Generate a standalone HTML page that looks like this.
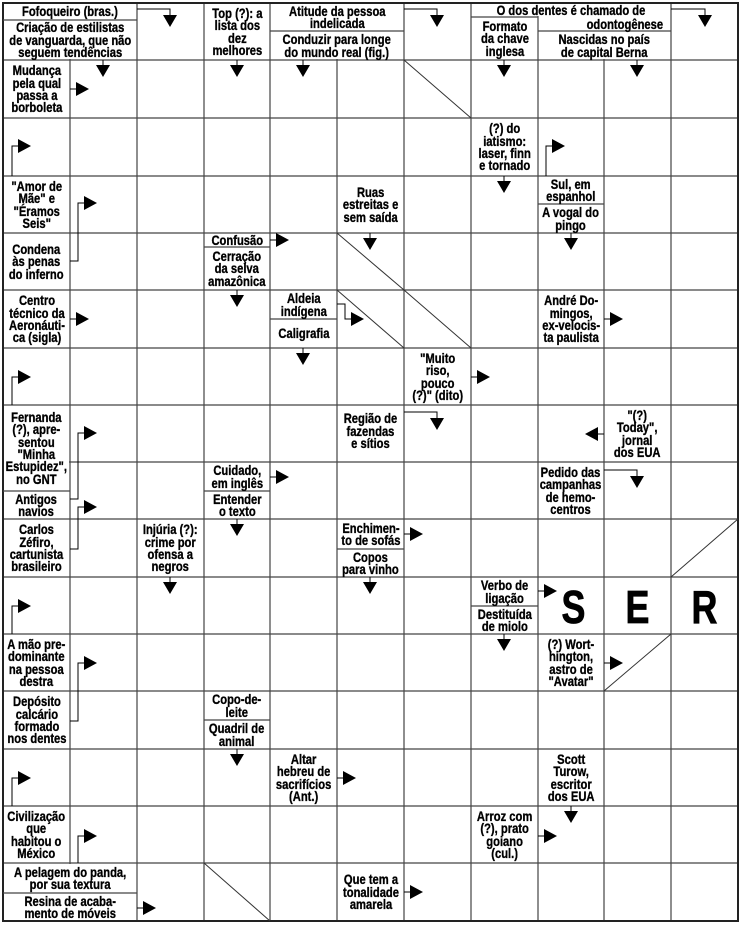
<!DOCTYPE html>
<html><head><meta charset="utf-8">
<style>
html,body{margin:0;padding:0;background:#fff;}
#w{position:relative;width:740px;height:926px;overflow:hidden;background:#fff;}
svg{position:absolute;left:0;top:0;}
.c{position:absolute;display:flex;align-items:center;justify-content:center;}
.c span{display:block;font:bold 14px/12.4px "Liberation Sans",Arial,sans-serif;text-align:center;white-space:nowrap;transform:scaleX(.8);color:#000;-webkit-text-stroke:0.35px #000;}
.L{position:absolute;font:bold 46px/44px "Liberation Sans",Arial,sans-serif;transform:scaleX(.78);width:67px;text-align:center;color:#000;-webkit-text-stroke:0.8px #000;}
</style></head><body>
<div id="w">
<svg width="740" height="926" viewBox="0 0 740 926">
<g stroke="#444" stroke-width="1.2" fill="none">
<line x1="70" y1="3" x2="70" y2="921"/><line x1="137" y1="3" x2="137" y2="921"/><line x1="204" y1="3" x2="204" y2="921"/><line x1="270" y1="3" x2="270" y2="921"/><line x1="337" y1="3" x2="337" y2="921"/><line x1="404" y1="3" x2="404" y2="921"/><line x1="471" y1="3" x2="471" y2="921"/><line x1="538" y1="3" x2="538" y2="921"/><line x1="604" y1="3" x2="604" y2="921"/><line x1="671" y1="3" x2="671" y2="921"/>
<line x1="3" y1="60" x2="738" y2="60"/><line x1="3" y1="118" x2="738" y2="118"/><line x1="3" y1="176" x2="738" y2="176"/><line x1="3" y1="233" x2="738" y2="233"/><line x1="3" y1="290" x2="738" y2="290"/><line x1="3" y1="348" x2="738" y2="348"/><line x1="3" y1="405" x2="738" y2="405"/><line x1="3" y1="462" x2="738" y2="462"/><line x1="3" y1="519" x2="738" y2="519"/><line x1="3" y1="577" x2="738" y2="577"/><line x1="3" y1="634" x2="738" y2="634"/><line x1="3" y1="691" x2="738" y2="691"/><line x1="3" y1="749" x2="738" y2="749"/><line x1="3" y1="806" x2="738" y2="806"/><line x1="3" y1="863" x2="738" y2="863"/>
</g>
<g fill="#fff" stroke="none">
<rect x="68" y="4" width="4" height="55"/><rect x="68" y="864" width="4" height="56"/>
<rect x="335" y="4" width="4" height="55"/><rect x="536" y="4" width="4" height="12"/>
<rect x="602" y="4" width="4" height="55"/><rect x="4" y="460" width="65" height="4"/>
</g>
<rect x="3" y="3" width="735" height="918" fill="none" stroke="#222" stroke-width="2"/>
<g stroke="#444" stroke-width="1.2" fill="none">
<line x1="3" y1="20" x2="137" y2="20"/><line x1="270" y1="31" x2="404" y2="31"/><line x1="471" y1="17" x2="538" y2="17"/><line x1="538" y1="31" x2="671" y2="31"/>
<line x1="538" y1="204" x2="604" y2="204"/><line x1="204" y1="247" x2="270" y2="247"/><line x1="270" y1="319" x2="337" y2="319"/><line x1="3" y1="491" x2="70" y2="491"/><line x1="204" y1="491" x2="270" y2="491"/><line x1="337" y1="549" x2="404" y2="549"/><line x1="471" y1="606" x2="538" y2="606"/><line x1="204" y1="720" x2="270" y2="720"/><line x1="3" y1="893" x2="137" y2="893"/>
</g>
<g stroke="#333" stroke-width="1" fill="none">
<line x1="404" y1="60" x2="471" y2="118"/><line x1="337" y1="233" x2="404" y2="290"/><line x1="337" y1="290" x2="404" y2="348"/><line x1="404" y1="290" x2="471" y2="348"/><line x1="671" y1="577" x2="738" y2="519"/><line x1="604" y1="691" x2="671" y2="634"/><line x1="204" y1="863" x2="270" y2="921"/>
</g>
<g stroke="#000" stroke-width="1" fill="none">
<path d="M103 60v5M237 60v5M303 60v5M504 60v5M637 60v5M370 233v5M504 176v5M571 233v5M237 290v5M303 348v5M237 519v5M170 577v5M370 577v5M504 634v5M237 749v5M571 806v5"/>
<path d="M137 9H170v6M404 9H437v6M671 9H705v6M404 412H437v6M604 470H637v6"/>
<path d="M70 89h6M270 240h6M70 319h6M604 319h6M471 377h6M270 477h6M404 534h6M538 591h6M604 663h6M337 778h6M538 836h6M404 892h6M137 908h6M604 434h-6"/>
<path d="M12 176V146h6M12 405V377h6M12 634V606h6M12 806V778h6M70 261h8V203h6M70 499h8V433h6M70 549h8V507h6M70 721h8V663h6M78 863V836h6M546 176V146h6M337 304h8v15h6"/>
</g>
<g fill="#000">
<path d="M96 65h14l-7 12zM230 65h14l-7 12zM296 65h14l-7 12zM497 65h14l-7 12zM630 65h14l-7 12zM363 238h14l-7 12zM497 181h14l-7 12zM564 238h14l-7 12zM230 295h14l-7 12zM296 353h14l-7 12zM230 524h14l-7 12zM163 582h14l-7 12zM363 582h14l-7 12zM497 639h14l-7 12zM230 754h14l-7 12zM564 811h14l-7 12z"/>
<path d="M163 15h14l-7 12zM430 15h14l-7 12zM698 15h14l-7 12zM430 418h14l-7 12zM630 476h14l-7 12z"/>
<path d="M76 82v14l13-7zM276 233v14l13-7zM76 312v14l13-7zM610 312v14l13-7zM477 370v14l13-7zM276 470v14l13-7zM410 527v14l13-7zM544 584v14l13-7zM610 656v14l13-7zM343 771v14l13-7zM544 829v14l13-7zM410 885v14l13-7zM143 901v14l13-7z"/>
<path d="M598 427v14l-13-7z"/>
<path d="M18 139v14l13-7zM18 370v14l13-7zM18 599v14l13-7zM18 771v14l13-7zM84 196v14l13-7zM84 426v14l13-7zM84 500v14l13-7zM84 656v14l13-7zM84 829v14l13-7zM552 139v14l13-7zM351 312v14l13-7z"/>
</g>
</svg>

<div class="c" style="left:3px;top:3px;width:134px;height:17px"><span>Fofoqueiro (bras.)</span></div>
<div class="c" style="left:3px;top:20px;width:134px;height:40px"><span>Criação de estilistas<br>de vanguarda, que não<br>seguem tendências</span></div>
<div class="c" style="left:204px;top:3px;width:66px;height:57px"><span>Top (?): a<br>lista dos<br>dez<br>melhores</span></div>
<div class="c" style="left:270px;top:3px;width:134px;height:28px"><span>Atitude da pessoa<br>indelicada</span></div>
<div class="c" style="left:270px;top:31px;width:134px;height:29px"><span>Conduzir para longe<br>do mundo real (fig.)</span></div>
<div class="c" style="left:471px;top:3px;width:200px;height:14px"><span>O dos dentes é chamado de</span></div>
<div class="c" style="left:560px;top:17px;width:130px;height:14px"><span>odontogênese</span></div>
<div class="c" style="left:471px;top:17px;width:67px;height:43px"><span>Formato<br>da chave<br>inglesa</span></div>
<div class="c" style="left:538px;top:31px;width:133px;height:29px"><span>Nascidas no país<br>de capital Berna</span></div>
<div class="c" style="left:3px;top:60px;width:67px;height:58px"><span>Mudança<br>pela qual<br>passa a<br>borboleta</span></div>
<div class="c" style="left:471px;top:118px;width:67px;height:58px"><span>(?) do<br>iatismo:<br>laser, finn<br>e tornado</span></div>
<div class="c" style="left:3px;top:176px;width:67px;height:57px"><span>"Amor de<br>Mãe" e<br>"Éramos<br>Seis"</span></div>
<div class="c" style="left:337px;top:176px;width:67px;height:57px"><span>Ruas<br>estreitas e<br>sem saída</span></div>
<div class="c" style="left:538px;top:176px;width:66px;height:28px"><span>Sul, em<br>espanhol</span></div>
<div class="c" style="left:538px;top:204px;width:66px;height:29px"><span>A vogal do<br>pingo</span></div>
<div class="c" style="left:3px;top:233px;width:67px;height:57px"><span>Condena<br>às penas<br>do inferno</span></div>
<div class="c" style="left:204px;top:233px;width:66px;height:14px"><span>Confusão</span></div>
<div class="c" style="left:204px;top:247px;width:66px;height:43px"><span>Cerração<br>da selva<br>amazônica</span></div>
<div class="c" style="left:3px;top:290px;width:67px;height:58px"><span>Centro<br>técnico da<br>Aeronáuti-<br>ca (sigla)</span></div>
<div class="c" style="left:270px;top:290px;width:67px;height:29px"><span>Aldeia<br>indígena</span></div>
<div class="c" style="left:270px;top:319px;width:67px;height:29px"><span>Caligrafia</span></div>
<div class="c" style="left:538px;top:290px;width:66px;height:58px"><span>André Do-<br>mingos,<br>ex-velocis-<br>ta paulista</span></div>
<div class="c" style="left:404px;top:348px;width:67px;height:57px"><span>"Muito<br>riso,<br>pouco<br>(?)" (dito)</span></div>
<div class="c" style="left:3px;top:405px;width:67px;height:86px"><span>Fernanda<br>(?), apre-<br>sentou<br>"Minha<br>Estupidez",<br>no GNT</span></div>
<div class="c" style="left:3px;top:491px;width:67px;height:28px"><span>Antigos<br>navios</span></div>
<div class="c" style="left:337px;top:405px;width:67px;height:52px"><span>Região de<br>fazendas<br>e sítios</span></div>
<div class="c" style="left:604px;top:405px;width:67px;height:57px"><span>"(?)<br>Today",<br>jornal<br>dos EUA</span></div>
<div class="c" style="left:204px;top:462px;width:66px;height:29px"><span>Cuidado,<br>em inglês</span></div>
<div class="c" style="left:204px;top:491px;width:66px;height:28px"><span>Entender<br>o texto</span></div>
<div class="c" style="left:538px;top:462px;width:66px;height:57px"><span>Pedido das<br>campanhas<br>de hemo-<br>centros</span></div>
<div class="c" style="left:3px;top:519px;width:67px;height:58px"><span>Carlos<br>Zéfiro,<br>cartunista<br>brasileiro</span></div>
<div class="c" style="left:137px;top:519px;width:67px;height:58px"><span>Injúria (?):<br>crime por<br>ofensa a<br>negros</span></div>
<div class="c" style="left:337px;top:519px;width:67px;height:30px"><span>Enchimen-<br>to de sofás</span></div>
<div class="c" style="left:337px;top:549px;width:67px;height:28px"><span>Copos<br>para vinho</span></div>
<div class="c" style="left:471px;top:577px;width:67px;height:29px"><span>Verbo de<br>ligação</span></div>
<div class="c" style="left:471px;top:606px;width:67px;height:28px"><span>Destituída<br>de miolo</span></div>
<div class="L" style="left:540px;top:585px">S</div>
<div class="L" style="left:604px;top:585px">E</div>
<div class="L" style="left:671px;top:585px">R</div>
<div class="c" style="left:3px;top:634px;width:67px;height:57px"><span>A mão pre-<br>dominante<br>na pessoa<br>destra</span></div>
<div class="c" style="left:538px;top:634px;width:66px;height:57px"><span>(?) Wort-<br>hington,<br>astro de<br>"Avatar"</span></div>
<div class="c" style="left:3px;top:691px;width:67px;height:58px"><span>Depósito<br>calcário<br>formado<br>nos dentes</span></div>
<div class="c" style="left:204px;top:691px;width:66px;height:29px"><span>Copo-de-<br>leite</span></div>
<div class="c" style="left:204px;top:720px;width:66px;height:29px"><span>Quadril de<br>animal</span></div>
<div class="c" style="left:270px;top:749px;width:67px;height:57px"><span>Altar<br>hebreu de<br>sacrifícios<br>(Ant.)</span></div>
<div class="c" style="left:538px;top:749px;width:66px;height:57px"><span>Scott<br>Turow,<br>escritor<br>dos EUA</span></div>
<div class="c" style="left:3px;top:806px;width:67px;height:57px"><span>Civilização<br>que<br>habitou o<br>México</span></div>
<div class="c" style="left:471px;top:806px;width:67px;height:57px"><span>Arroz com<br>(?), prato<br>goiano<br>(cul.)</span></div>
<div class="c" style="left:3px;top:863px;width:134px;height:30px"><span>A pelagem do panda,<br>por sua textura</span></div>
<div class="c" style="left:3px;top:893px;width:134px;height:28px"><span>Resina de acaba-<br>mento de móveis</span></div>
<div class="c" style="left:337px;top:863px;width:67px;height:58px"><span>Que tem a<br>tonalidade<br>amarela</span></div>
</div>
</body></html>
